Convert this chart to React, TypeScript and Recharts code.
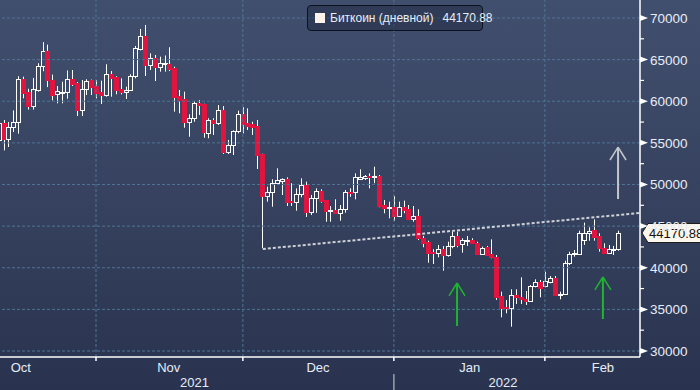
import { ComposedChart, Bar, XAxis, YAxis, ReferenceLine, ReferenceDot } from 'recharts';

// daily candles, Oct 11 2021 .. Feb 15 2022 (day index -1 .. 126, Oct 12 = 0)
const FIRST_DAY = Date.UTC(2021, 9, 11);

const opens = [
  55400, 57350, 55430, 56940, 57470, 62640, 61150, 59430, 61350, 64230,
  66070, 62550, 60870, 61050, 61150, 62640, 62150, 58950, 61430, 62550, 61800,
  61150, 60750, 63240, 62950, 61470, 61070, 61350, 63070, 66240, 67840,
  64350, 65160, 64150, 64500, 64440, 64030, 60630, 60270, 57540, 57950,
  59750, 59630, 56230, 57750, 57350, 58950, 53940, 54740, 56430, 58470,
  57350, 57230, 57030, 53660, 48620, 49140, 50150, 50460, 50620, 48060,
  47940, 48860, 49940, 46730, 48340, 49220, 48140, 46800, 46940, 46610,
  47020, 49140, 49140, 50700, 50740, 51060, 50860, 51020, 47540, 47180, 47260,
  46220, 47260, 47020, 45820, 46220, 43540, 43130, 41930, 41730, 42220,
  41530, 42620, 43820, 42850, 43200, 43330, 43020, 41650, 42460, 41650,
  41250, 36610, 35300, 35200, 36730, 36500, 36300, 36040, 37810, 38330, 37810,
  38330, 38740, 36700, 36810, 40540, 41650, 41650, 43330, 44140, 44530,
  43810, 42410, 41810, 42140, 42220,
];

const highs = [
  57800, 57750, 57500, 58900, 63000, 62950, 61500, 62800, 64560, 67100,
  66800, 63200, 61830, 62350, 63700, 63750, 62300, 62550, 62640, 62600, 62550,
  62470, 64440, 63630, 63000, 62750, 61750, 63240, 66640, 68680, 69160,
  65760, 65560, 65350, 65500, 66480, 64150, 61350, 61150, 58430, 60030,
  60150, 59700, 57950, 57950, 59550, 59430, 55350, 56500, 58870, 59270,
  59150, 57540, 57750, 53700, 49740, 50620, 51940, 50740, 50860, 50150,
  49540, 50740, 50340, 48740, 49540, 49420, 48140, 47420, 48220, 47540,
  49340, 49540, 51340, 51820, 51140, 51340, 52140, 51140, 48140, 47940, 48620,
  47940, 48060, 47540, 47420, 47020, 43820, 43250, 42220, 42740, 42600,
  43130, 44330, 44330, 43540, 43820, 43540, 43130, 42540, 42620, 43410,
  41530, 37130, 36130, 37410, 37410, 38850, 37200, 37930, 38610, 38530, 39530,
  39010, 39010, 37130, 40850, 41930, 42130, 44450, 45420, 44860, 45810,
  44140, 42940, 42740, 42620, 44450,
];

const lows = [
  54500, 54100, 54500, 56300, 56100, 60350, 59000, 59000, 61150, 63600,
  61700, 60100, 59750, 59750, 60300, 61830, 58230, 58230, 60750, 60750, 60350,
  59670, 60550, 60550, 60830, 60830, 60270, 61230, 62750, 66100, 63030,
  63750, 62430, 63550, 63550, 63630, 58750, 58550, 56820, 55740, 57540,
  58350, 55620, 55550, 55950, 57150, 53660, 53660, 53540, 56150, 56150,
  56550, 55950, 51860, 42340, 47940, 47330, 49940, 48740, 47420, 47420,
  46850, 48460, 46100, 46340, 46600, 47820, 45530, 45530, 46460, 45650,
  46610, 48530, 48220, 50540, 50540, 49540, 50150, 47260, 46540, 45940, 45650,
  46140, 46540, 45740, 45530, 43330, 42460, 40600, 40450, 41250, 39650,
  41330, 42340, 42460, 41810, 42620, 42850, 41600, 41530, 41410, 41130,
  36130, 34050, 34530, 32920, 35650, 35650, 35530, 35930, 37650, 36450, 37650,
  38130, 36610, 36210, 36730, 40330, 41330, 41530, 42740, 43250, 43250,
  41930, 41730, 41650, 41530, 42050,
];

const closes = [
  57350, 55430, 56940, 57470, 62640, 60950, 59430, 61430, 64230, 66070,
  62500, 60750, 61230, 61150, 62640, 62100, 58950, 61430, 62470, 61750, 60950,
  60800, 63240, 62830, 61350, 61070, 61350, 63070, 66360, 67840, 64350,
  65160, 64150, 64550, 64600, 63870, 60550, 60150, 57540, 57950, 59750,
  59500, 56250, 57750, 57350, 58950, 53940, 54740, 56430, 58470, 57230,
  57070, 56950, 53540, 48620, 49140, 50150, 50540, 50620, 47940, 47900,
  48860, 49940, 46730, 48340, 49220, 48060, 46850, 46900, 46610, 47020,
  49140, 48940, 50860, 50860, 51020, 50860, 51020, 47420, 47140, 47260, 46220,
  47260, 46940, 45820, 46220, 43540, 43010, 41810, 41730, 42220, 41530,
  42620, 43820, 42740, 43330, 43300, 42940, 41650, 42340, 41530, 41250,
  36450, 35130, 35130, 36730, 36450, 36200, 36050, 37810, 38330, 37530, 38450,
  38740, 36730, 36800, 40540, 41650, 41810, 44140, 44140, 44450, 43730,
  42340, 41810, 42220, 42200, 44170.88,
];

const monthEdges = [18.8, 48.9, 79.85, 110.8];
const monthLabels = ['Oct', 'Nov', 'Dec', 'Jan', 'Feb'];
const monthLabelDays = [3.4, 33.7, 64.3, 95.4, 122.7];
const yearLabels = ['2021', '2022'];
const yearLabelDays = [39, 102.2];

const priceTicks = [30000, 32500, 35000, 37500, 40000, 42500, 45000, 47500, 50000, 52500, 55000, 57500, 60000, 62500, 65000, 67500, 70000];
const gridPrices = [30000, 35000, 40000, 45000, 50000, 55000, 60000, 65000, 70000];

const seriesName = 'Биткоин (дневной)';
const lastPrice = 44170.88;

// dotted trend line from the Dec 4 low
const supportLine = [{ x: 53, y: 42250 }, { x: 130.2, y: 46580 }];

// arrows: day, tail price, tip price
const arrowDays = [92.8, 122.7, 125.8];
const arrowTails = [33000, 33840, 48260];
const arrowTips = [38170, 38890, 54500];
const arrowColors = ['#1fb52c', '#1fb52c', '#c3c7ce'];

const candles = opens.map((open, i) => ({
  day: i - 1,
  date: new Date(FIRST_DAY + i * 86400000).toISOString().slice(0, 10),
  open,
  high: highs[i],
  low: lows[i],
  close: closes[i],
}));

const UP = '#ffffff';
const DOWN = '#e0143f';
const GRID = '#4f7494';
const LABEL = '#e6edf8';
const FONT = '"Liberation Sans", Arial, sans-serif';

const Candle = (props: any) => {
  const { x, y, width, height, payload } = props;
  if (x == null || y == null) return null;
  const { open, close, high, low } = payload;
  const top = Math.min(y, y + height);
  const bottom = Math.max(y, y + height);
  const span = high - low || 1;
  const py = (v: number) => top + ((high - v) / span) * (bottom - top);
  const cx = Math.floor(x + width / 2) + 0.5;
  const bTop = Math.round(py(Math.max(open, close))) + 0.5;
  const bBot = Math.round(py(Math.min(open, close))) + 0.5;
  if (close >= open) {
    const h = Math.max(bBot - bTop, 1);
    return (
      <g>
        <line x1={cx} x2={cx} y1={top} y2={bTop} stroke={UP} strokeWidth={1} />
        <line x1={cx} x2={cx} y1={bTop + h} y2={bottom} stroke={UP} strokeWidth={1} />
        <rect x={cx - 2} y={bTop} width={4} height={h} fill="none" stroke={UP} strokeWidth={1} />
      </g>
    );
  }
  return (
    <g>
      <line x1={cx} x2={cx} y1={top} y2={bottom} stroke={UP} strokeWidth={1} />
      <rect x={cx - 2.5} y={bTop - 0.5} width={5} height={Math.max(bBot - bTop + 1, 2)} fill={DOWN} />
    </g>
  );
};

const XTick = ({ x, y, payload }: any) => {
  const v = payload.value;
  const e = monthEdges.indexOf(v);
  if (e >= 0) {
    return (
      <g>
        <line x1={x} x2={x} y1={y} y2={y + 4} stroke="#fff" strokeWidth={1.5} />
        {e === 2 && <line x1={x} x2={x} y1={y + 17} y2={y + 33} stroke="#9aa0aa" strokeWidth={1.5} />}
      </g>
    );
  }
  const m = monthLabelDays.indexOf(v);
  if (m >= 0) {
    return (
      <text x={x} y={y + 15} textAnchor="middle" fill={LABEL} fontSize={13} fontFamily={FONT}>
        {monthLabels[m]}
      </text>
    );
  }
  const k = yearLabelDays.indexOf(v);
  if (k >= 0) {
    return (
      <text x={x} y={y + 30} textAnchor="middle" fill={LABEL} fontSize={13} fontFamily={FONT}>
        {yearLabels[k]}
      </text>
    );
  }
  return null;
};

const YTick = ({ x, y, payload }: any) => {
  const v = payload.value;
  if (v % 5000 !== 0) {
    return <line x1={x} x2={x + 4} y1={y} y2={y} stroke="#fff" strokeWidth={1.2} />;
  }
  return (
    <g>
      <polygon points={`${x},${y - 3} ${x + 8},${y} ${x},${y + 3}`} fill="#fff" />
      <text x={x + 10} y={y + 5} fill={LABEL} fontSize={13.5} fontFamily={FONT}>
        {v}
      </text>
    </g>
  );
};

const PriceTag = ({ cx, cy }: any) => {
  if (cx == null || cy == null) return null;
  const l = cx + 8;
  return (
    <g>
      <path
        d={`M${cx + 2},${cy} L${l},${cy - 9.5} L${l + 70},${cy - 9.5} L${l + 70},${cy + 9.5} L${l},${cy + 9.5} Z`}
        fill="#fdf6ec"
        stroke="#1b1b1b"
        strokeWidth={1}
      />
      <text x={cx + 9} y={cy + 5} fill="#111" fontSize={13} fontFamily={FONT}>
        {lastPrice.toFixed(2)}
      </text>
    </g>
  );
};

const App = () => {
  return (
    <div
      style={{
        position: 'absolute',
        left: 0,
        top: 0,
        width: 700,
        height: 390,
        overflow: 'hidden',
        background: 'linear-gradient(to bottom, #414f6e 0%, #36425f 50%, #29334f 100%)',
      }}
    >
      <ComposedChart width={700} height={390} data={candles} margin={{ top: 0, right: 0, bottom: 0, left: 0 }}>
        {gridPrices.map((p) => (
          <ReferenceLine key={'h' + p} y={p} stroke={GRID} strokeDasharray="3 2" strokeWidth={1} />
        ))}
        {monthEdges.map((d) => (
          <ReferenceLine key={'v' + d} x={d} stroke={GRID} strokeDasharray="3 2" strokeWidth={1} />
        ))}
        <XAxis
          type="number"
          dataKey="day"
          domain={[-0.88, 130.3]}
          allowDataOverflow
          ticks={[...monthEdges, ...monthLabelDays, ...yearLabelDays]}
          interval={0}
          tick={<XTick />}
          tickLine={false}
          tickSize={0}
          tickMargin={0}
          axisLine={{ stroke: '#fff', strokeWidth: 1.5 }}
          height={33}
        />
        <YAxis
          orientation="right"
          type="number"
          domain={[29280, 72160]}
          allowDataOverflow
          ticks={priceTicks}
          interval={0}
          tick={<YTick />}
          tickLine={false}
          tickSize={0}
          tickMargin={0}
          axisLine={{ stroke: '#fff', strokeWidth: 1.5 }}
          width={60}
        />
        <Bar
          dataKey={(d: any) => [d.low, d.high]}
          barSize={5}
          shape={<Candle />}
          isAnimationActive={false}
        />
        <ReferenceLine
          segment={supportLine}
          stroke="#cfd2d8"
          strokeWidth={2}
          strokeDasharray="3 2"
          ifOverflow="visible"
        />
        {arrowDays.map((d, i) => {
          const drop = (arrowTips[i] - arrowTails[i]) > 0 ? 1560 : -1560;
          return [
            <ReferenceLine
              key={'as' + i}
              segment={[{ x: d, y: arrowTails[i] }, { x: d, y: arrowTips[i] }]}
              stroke={arrowColors[i]}
              strokeWidth={2}
              ifOverflow="visible"
            />,
            <ReferenceLine
              key={'al' + i}
              segment={[{ x: d - 1.64, y: arrowTips[i] - drop }, { x: d, y: arrowTips[i] }]}
              stroke={arrowColors[i]}
              strokeWidth={1.5}
              ifOverflow="visible"
            />,
            <ReferenceLine
              key={'ar' + i}
              segment={[{ x: d + 1.64, y: arrowTips[i] - drop }, { x: d, y: arrowTips[i] }]}
              stroke={arrowColors[i]}
              strokeWidth={1.5}
              ifOverflow="visible"
            />,
          ];
        })}
        <ReferenceDot x={130.3} y={lastPrice} r={0} ifOverflow="visible" shape={<PriceTag />} />
      </ComposedChart>
      <div
        style={{
          position: 'absolute',
          left: 307,
          top: 5,
          width: 174,
          height: 24,
          border: '1.5px solid #0c1220',
          borderRadius: 4,
          background: 'rgba(28, 38, 60, 0.45)',
          display: 'flex',
          alignItems: 'center',
          fontFamily: FONT,
          fontSize: 12,
          color: LABEL,
          whiteSpace: 'nowrap',
        }}
      >
        <span style={{ flexShrink: 0, width: 10, height: 10, background: '#fff3ec', marginLeft: 7, marginRight: 5 }} />
        <span style={{ flexShrink: 0 }}>{seriesName}</span>
        <span style={{ flexShrink: 0, marginLeft: 9 }}>{lastPrice.toFixed(2)}</span>
      </div>
    </div>
  );
};

export default App;
